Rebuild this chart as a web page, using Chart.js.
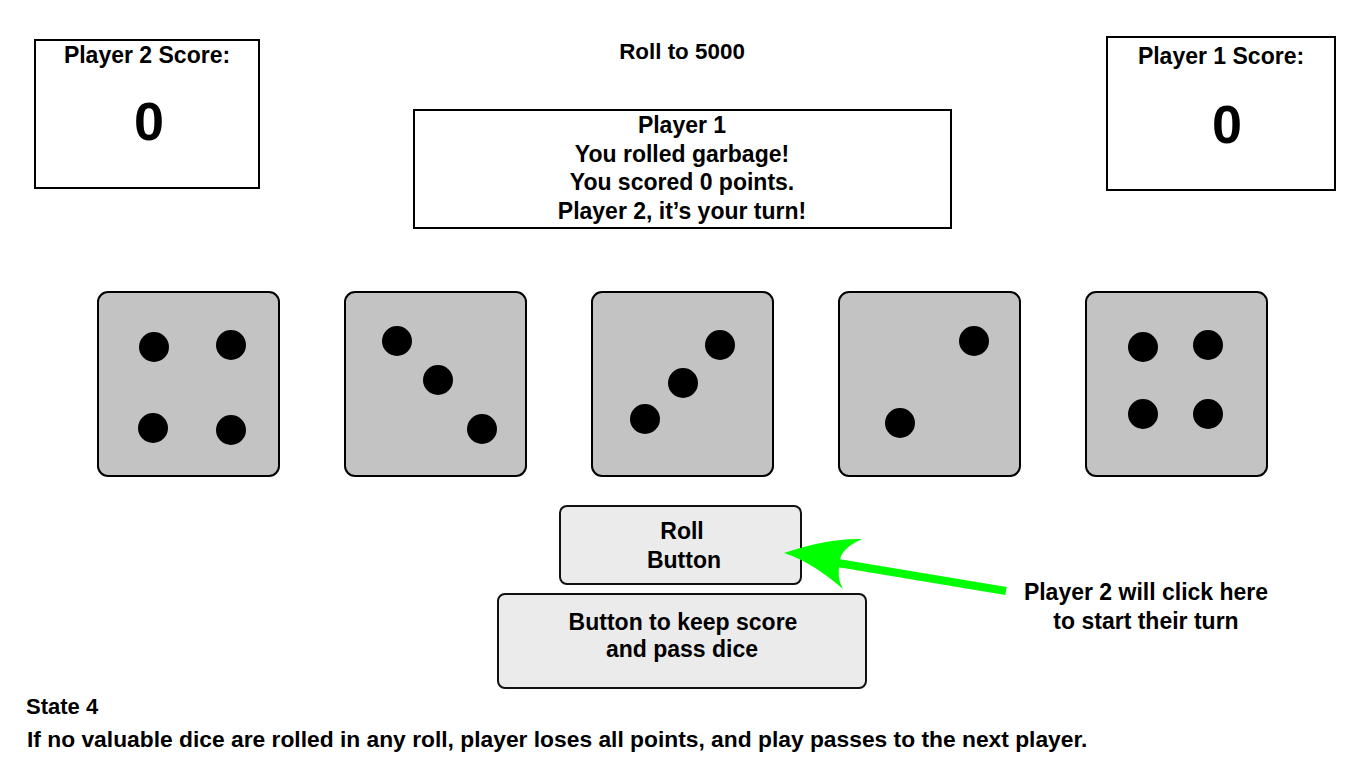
<!DOCTYPE html>
<html>
<head>
<meta charset="utf-8">
<script src="https://cdn.jsdelivr.net/npm/chart.js@4/dist/chart.umd.min.js"></script>
<style>
  html, body { margin: 0; padding: 0; background: #fff; }
  body { width: 1366px; height: 768px; position: relative; overflow: hidden;
         font-family: "Liberation Sans", Arial, Helvetica, sans-serif; font-weight: bold; color: #000; }
  .box { position: absolute; box-sizing: border-box; border: 2px solid #000; background: #fff; }
  .btn { position: absolute; box-sizing: border-box; border: 2px solid #111; border-radius: 8px; background: #ebebeb; }
  .t { position: absolute; white-space: nowrap; line-height: 1; font-size: 22px; }
  .c { transform: translateX(-50%); }
  #stage { position: absolute; left: 0; top: 0; z-index: 5; pointer-events: none; }
</style>
</head>
<body>
<div class="box" style="left:34px;top:39px;width:226px;height:150px"></div>
<div class="box" style="left:1106px;top:36px;width:230px;height:155px"></div>
<div class="box" style="left:413px;top:109px;width:539px;height:120px"></div>
<div class="btn" style="left:559px;top:505px;width:243px;height:80px"></div>
<div class="btn" style="left:497px;top:593px;width:370px;height:96px"></div>

<div id="texts"></div>
<canvas id="stage" width="1366" height="768"></canvas>

<script>
// pips (page pixels)
const pipX = [154, 231, 153, 231,  397, 438, 482,  720, 683, 645,  974, 900,  1143, 1208, 1143, 1208];
const pipY = [347, 345, 428, 430,  341, 380, 429,  345, 383, 419,  341, 423,  347, 345, 414, 414];
const dieFaces = [4, 3, 3, 2, 4];

// arrow from the note to the roll button
const arrowX = [1006, 832];
const arrowY = [591, 562];

// layout
const dieLeft = [98, 345, 592, 839, 1086];
const dieWidth = 181;
const dieTop = 292;
const dieBottom = 476;

// text lines: [text, x, baseline, size, centered]
const lines = [
  ['Player 2 Score:', 147, 63, 23, true],
  ['0', 149, 140, 54, true],
  ['Player 1 Score:', 1221, 64, 23, true],
  ['0', 1227, 143, 54, true],
  ['Roll to 5000', 682, 60, 22.4, true],
  ['Player 1', 682, 133, 23, true],
  ['You rolled garbage!', 682, 162, 23, true],
  ['You scored 0 points.', 682, 190, 23, true],
  ['Player 2, it\u2019s your turn!', 682, 219, 23, true],
  ['Roll', 682, 539, 23, true],
  ['Button', 684, 568, 23, true],
  ['Button to keep score', 683, 630, 23, true],
  ['and pass dice', 682, 657, 23, true],
  ['Player 2 will click here', 1146, 600, 23, true],
  ['to start their turn', 1146, 629, 23, true],
  ['State 4', 26, 715, 22, false],
  ['If no valuable dice are rolled in any roll, player loses all points, and play passes to the next player.', 27, 747, 22.8, false]
];

const holder = document.getElementById('texts');
lines.forEach(([txt, x, base, size, centered]) => {
  const d = document.createElement('div');
  d.className = 't' + (centered ? ' c' : '');
  d.style.fontSize = size + 'px';
  d.style.left = x + 'px';
  d.style.top = (base - 0.8465 * size) + 'px';
  d.textContent = txt;
  holder.appendChild(d);
});

const diceBoxes = {
  id: 'diceBoxes',
  beforeDatasetsDraw(chart) {
    const { ctx, scales: { x, y } } = chart;
    ctx.save();
    dieLeft.forEach((left) => {
      const x0 = x.getPixelForValue(left);
      const x1 = x.getPixelForValue(left + dieWidth);
      const y0 = y.getPixelForValue(dieTop);
      const y1 = y.getPixelForValue(dieBottom);
      ctx.beginPath();
      ctx.roundRect(x0, y0, x1 - x0, y1 - y0, 10);
      ctx.fillStyle = '#c3c3c3';
      ctx.fill();
      ctx.lineWidth = 2;
      ctx.strokeStyle = '#000';
      ctx.stroke();
    });
    ctx.restore();
  }
};

const arrowHead = {
  id: 'arrowHead',
  afterDatasetsDraw(chart) {
    const { ctx, scales: { x, y } } = chart;
    const p = (a, b) => [x.getPixelForValue(a), y.getPixelForValue(b)];
    const tip = p(784, 553), top = p(862, 539), notch = p(840, 564), bot = p(843, 589);
    const c1 = p(828, 538), c2 = p(838, 550), c3 = p(836, 577), c4 = p(812, 562);
    ctx.save();
    ctx.beginPath();
    ctx.moveTo(...tip);
    ctx.quadraticCurveTo(...c1, ...top);
    ctx.quadraticCurveTo(...c2, ...notch);
    ctx.quadraticCurveTo(...c3, ...bot);
    ctx.quadraticCurveTo(...c4, ...tip);
    ctx.closePath();
    ctx.fillStyle = '#00ff00';
    ctx.fill();
    ctx.restore();
  }
};

new Chart(document.getElementById('stage'), {
  type: 'scatter',
  data: {
    datasets: [
      {
        label: 'pips',
        data: pipX.map((v, i) => ({ x: v, y: pipY[i] })),
        backgroundColor: '#000',
        borderWidth: 0,
        pointRadius: 15,
        pointHoverRadius: 15
      },
      {
        label: 'arrow',
        type: 'line',
        data: arrowX.map((v, i) => ({ x: v, y: arrowY[i] })),
        borderColor: '#00ff00',
        borderWidth: 8,
        borderCapStyle: 'butt',
        pointRadius: 0,
        fill: false
      }
    ]
  },
  options: {
    responsive: false,
    devicePixelRatio: 1,
    animation: false,
    events: [],
    layout: { padding: 0, autoPadding: false },
    scales: {
      x: { type: 'linear', min: 0, max: 1366, display: false },
      y: { type: 'linear', min: 0, max: 768, reverse: true, display: false }
    },
    plugins: {
      legend: { display: false },
      tooltip: { enabled: false }
    }
  },
  plugins: [diceBoxes, arrowHead]
});
</script>
</body>
</html>
